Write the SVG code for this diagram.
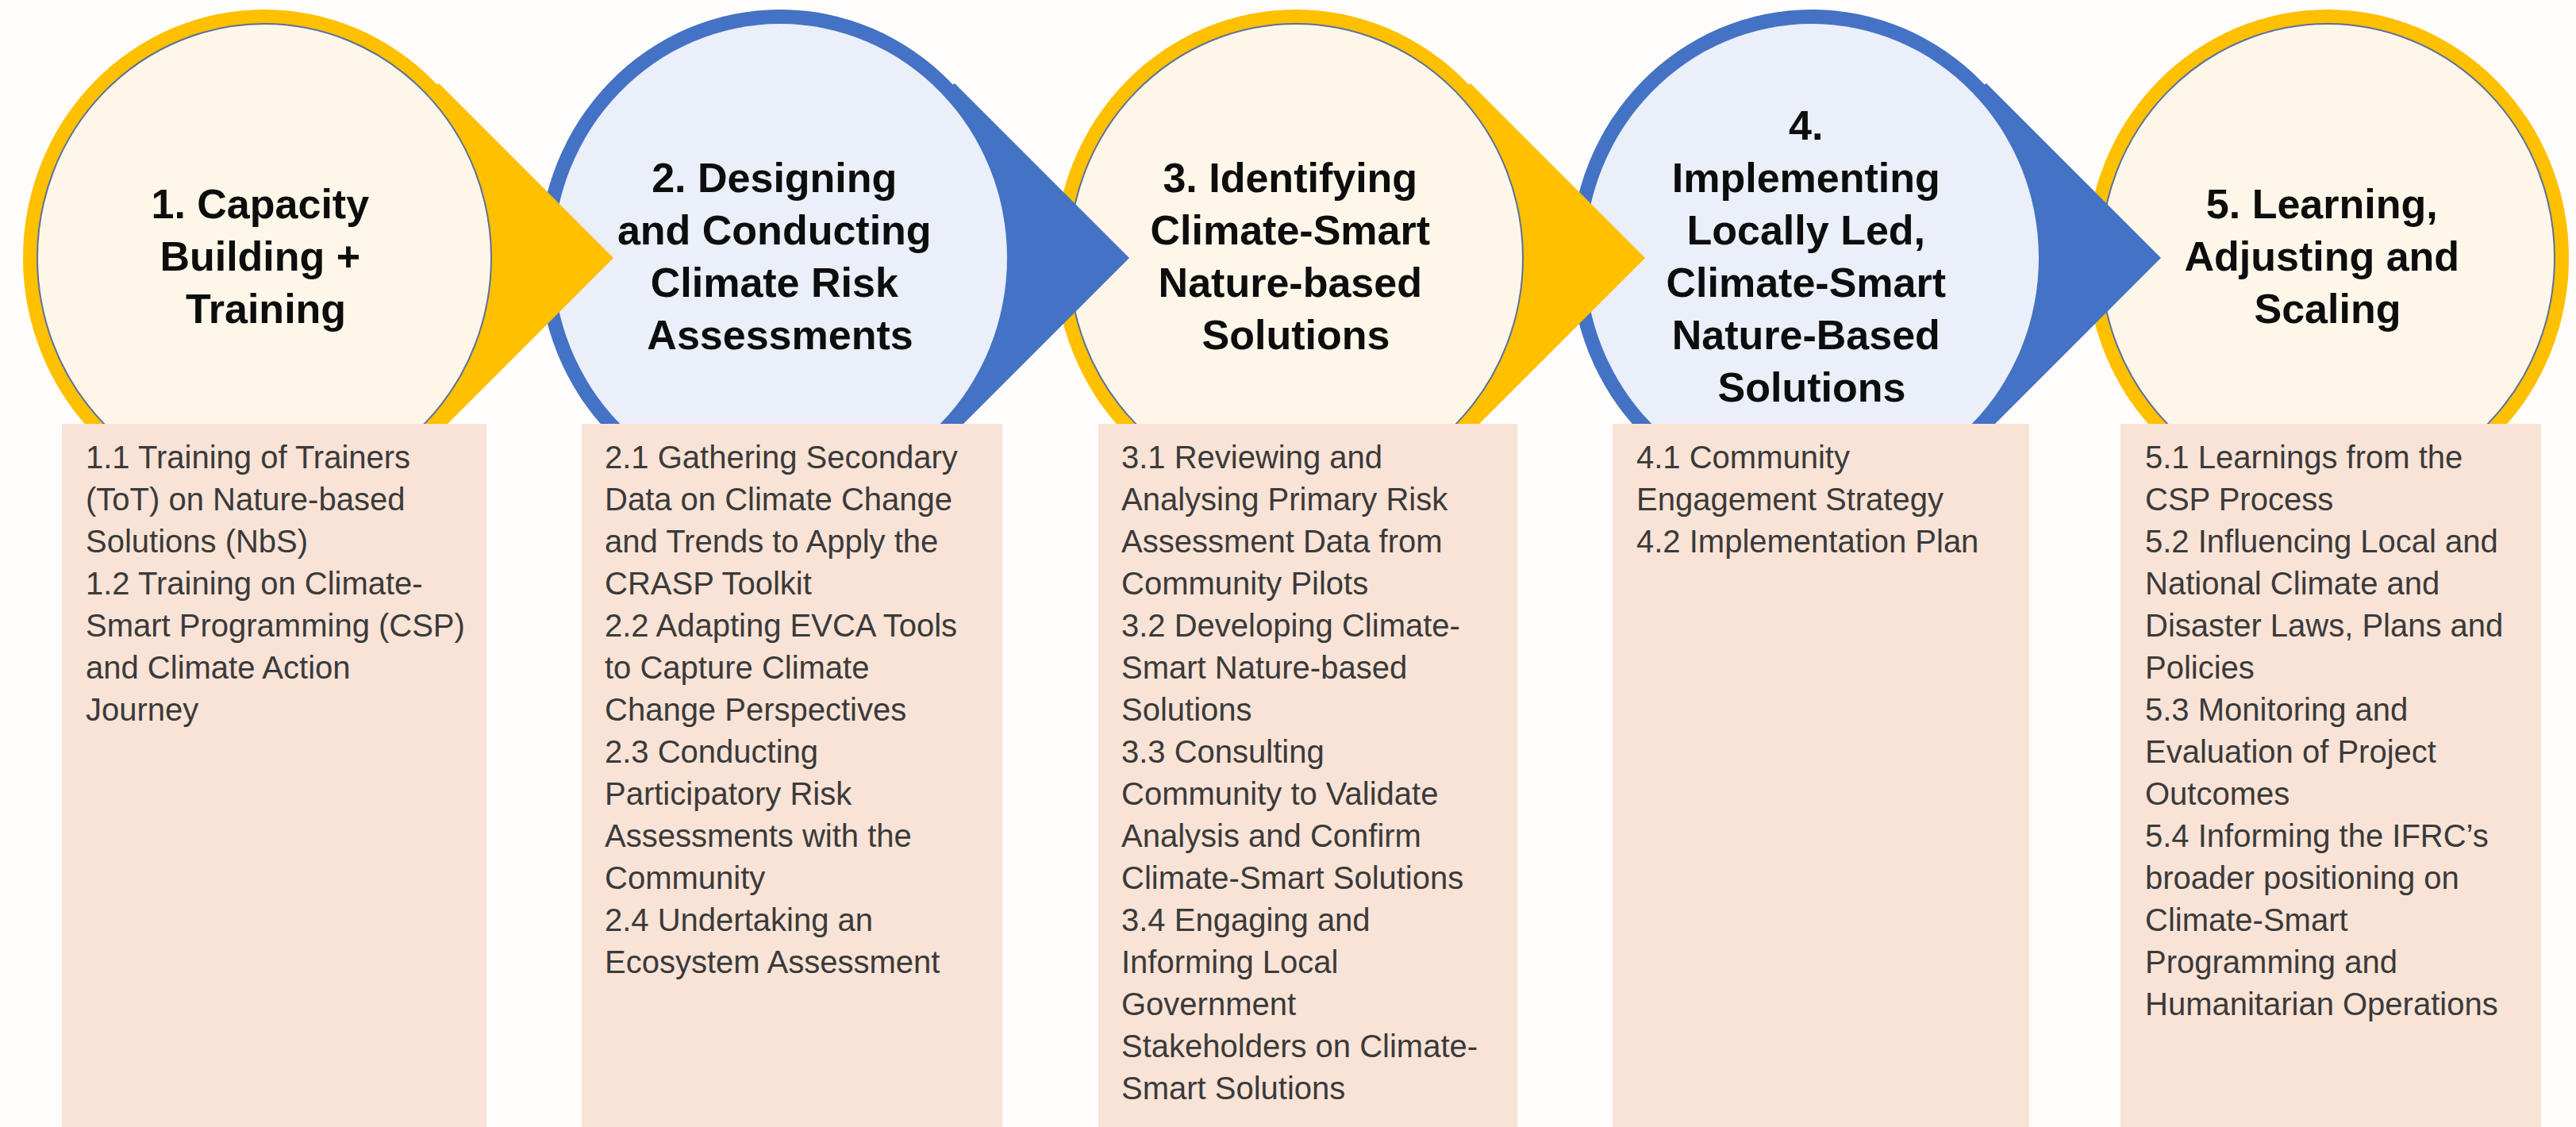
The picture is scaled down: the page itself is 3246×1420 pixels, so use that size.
<svg xmlns="http://www.w3.org/2000/svg" width="3246" height="1420" viewBox="0 0 3246 1420">
  <defs>
    <style>
      .ring-y { fill: #FFC000; }
      .ring-b { fill: #4472C4; }
      .core-y { fill: #FEF7E9; stroke: #5E7099; stroke-width: 2; }
      .core-b { fill: #EAEFF9; }
      .arrow-y { fill: #FFC000; }
      .arrow-b { fill: #4472C4; }
      .title { font-family: "Liberation Sans", Arial, sans-serif; font-weight: bold; font-size: 52px; fill: #0D0D0D; text-anchor: middle; }
      .box { fill: #F9E3D6; }
      .detail { font-family: "Liberation Sans", Arial, sans-serif; font-size: 40px; fill: #3A3A3A; }
    </style>
  </defs>

  <rect x="0" y="0" width="3246" height="1420" fill="#FEFDFB"/>

  <!-- step circles, last to first so each arrowhead overlays the next circle -->
  <g id="step5">
    <ellipse class="ring-y" cx="2933" cy="325" rx="304" ry="313"/>
    <ellipse class="core-y" cx="2933" cy="325" rx="286" ry="295"/>
    <text class="title">
      <tspan x="2933" y="275">5. Learning,</tspan>
      <tspan x="2933" y="341">Adjusting and</tspan>
      <tspan x="2933" y="407">Scaling</tspan>
    </text>
  </g>
  <g id="step4">
    <ellipse class="ring-b" cx="2283" cy="325" rx="304" ry="313"/>
    <ellipse class="core-b" cx="2283" cy="325" rx="286" ry="295"/>
    <text class="title">
      <tspan x="2283" y="176">4.</tspan>
      <tspan x="2283" y="242">Implementing</tspan>
      <tspan x="2283" y="308">Locally Led,</tspan>
      <tspan x="2283" y="374">Climate-Smart</tspan>
      <tspan x="2283" y="440">Nature-Based</tspan>
      <tspan x="2283" y="506">Solutions</tspan>
    </text>
  </g>
  <g id="step3">
    <ellipse class="ring-y" cx="1633" cy="325" rx="304" ry="313"/>
    <ellipse class="core-y" cx="1633" cy="325" rx="286" ry="295"/>
    <text class="title">
      <tspan x="1633" y="242">3. Identifying</tspan>
      <tspan x="1633" y="308">Climate-Smart</tspan>
      <tspan x="1633" y="374">Nature-based</tspan>
      <tspan x="1633" y="440">Solutions</tspan>
    </text>
  </g>
  <g id="step2">
    <ellipse class="ring-b" cx="983" cy="325" rx="304" ry="313"/>
    <ellipse class="core-b" cx="983" cy="325" rx="286" ry="295"/>
    <text class="title">
      <tspan x="983" y="242">2. Designing</tspan>
      <tspan x="983" y="308">and Conducting</tspan>
      <tspan x="983" y="374">Climate Risk</tspan>
      <tspan x="983" y="440">Assessments</tspan>
    </text>
  </g>
  <g id="step1">
    <ellipse class="ring-y" cx="333" cy="325" rx="304" ry="313"/>
    <ellipse class="core-y" cx="333" cy="325" rx="286" ry="295"/>
    <text class="title">
      <tspan x="335" y="275">1. Capacity</tspan>
      <tspan x="335" y="341">Building +</tspan>
      <tspan x="335" y="407">Training</tspan>
    </text>
  </g>

  <!-- arrowheads leading from each step into the next -->
  <g id="connectors">
    <path class="arrow-y" d="M773 325 L553 105 L537 115 A289 297 0 0 1 537 535 L553 545 Z"/>
    <path class="arrow-b" d="M1423 325 L1203 105 L1187 115 A289 297 0 0 1 1187 535 L1203 545 Z"/>
    <path class="arrow-y" d="M2073 325 L1853 105 L1837 115 A289 297 0 0 1 1837 535 L1853 545 Z"/>
    <path class="arrow-b" d="M2723 325 L2503 105 L2487 115 A289 297 0 0 1 2487 535 L2503 545 Z"/>
  </g>

  <!-- detail panels below the steps -->
  <g id="details1">
    <rect class="box" x="78" y="534" width="535" height="886"/>
    <text class="detail">
      <tspan x="108" y="590">1.1 Training of Trainers</tspan>
      <tspan x="108" dy="53">(ToT) on Nature-based</tspan>
      <tspan x="108" dy="53">Solutions (NbS)</tspan>
      <tspan x="108" dy="53">1.2 Training on Climate-</tspan>
      <tspan x="108" dy="53">Smart Programming (CSP)</tspan>
      <tspan x="108" dy="53">and Climate Action</tspan>
      <tspan x="108" dy="53">Journey</tspan>
    </text>
  </g>
  <g id="details2">
    <rect class="box" x="733" y="534" width="530" height="886"/>
    <text class="detail">
      <tspan x="762" y="590">2.1 Gathering Secondary</tspan>
      <tspan x="762" dy="53">Data on Climate Change</tspan>
      <tspan x="762" dy="53">and Trends to Apply the</tspan>
      <tspan x="762" dy="53">CRASP Toolkit</tspan>
      <tspan x="762" dy="53">2.2 Adapting EVCA Tools</tspan>
      <tspan x="762" dy="53">to Capture Climate</tspan>
      <tspan x="762" dy="53">Change Perspectives</tspan>
      <tspan x="762" dy="53">2.3 Conducting</tspan>
      <tspan x="762" dy="53">Participatory Risk</tspan>
      <tspan x="762" dy="53">Assessments with the</tspan>
      <tspan x="762" dy="53">Community</tspan>
      <tspan x="762" dy="53">2.4 Undertaking an</tspan>
      <tspan x="762" dy="53">Ecosystem Assessment</tspan>
    </text>
  </g>
  <g id="details3">
    <rect class="box" x="1384" y="534" width="528" height="886"/>
    <text class="detail">
      <tspan x="1413" y="590">3.1 Reviewing and</tspan>
      <tspan x="1413" dy="53">Analysing Primary Risk</tspan>
      <tspan x="1413" dy="53">Assessment Data from</tspan>
      <tspan x="1413" dy="53">Community Pilots</tspan>
      <tspan x="1413" dy="53">3.2 Developing Climate-</tspan>
      <tspan x="1413" dy="53">Smart Nature-based</tspan>
      <tspan x="1413" dy="53">Solutions</tspan>
      <tspan x="1413" dy="53">3.3 Consulting</tspan>
      <tspan x="1413" dy="53">Community to Validate</tspan>
      <tspan x="1413" dy="53">Analysis and Confirm</tspan>
      <tspan x="1413" dy="53">Climate-Smart Solutions</tspan>
      <tspan x="1413" dy="53">3.4 Engaging and</tspan>
      <tspan x="1413" dy="53">Informing Local</tspan>
      <tspan x="1413" dy="53">Government</tspan>
      <tspan x="1413" dy="53">Stakeholders on Climate-</tspan>
      <tspan x="1413" dy="53">Smart Solutions</tspan>
    </text>
  </g>
  <g id="details4">
    <rect class="box" x="2032" y="534" width="525" height="886"/>
    <text class="detail">
      <tspan x="2062" y="590">4.1 Community</tspan>
      <tspan x="2062" dy="53">Engagement Strategy</tspan>
      <tspan x="2062" dy="53">4.2 Implementation Plan</tspan>
    </text>
  </g>
  <g id="details5">
    <rect class="box" x="2672" y="534" width="530" height="886"/>
    <text class="detail">
      <tspan x="2703" y="590">5.1 Learnings from the</tspan>
      <tspan x="2703" dy="53">CSP Process</tspan>
      <tspan x="2703" dy="53">5.2 Influencing Local and</tspan>
      <tspan x="2703" dy="53">National Climate and</tspan>
      <tspan x="2703" dy="53">Disaster Laws, Plans and</tspan>
      <tspan x="2703" dy="53">Policies</tspan>
      <tspan x="2703" dy="53">5.3 Monitoring and</tspan>
      <tspan x="2703" dy="53">Evaluation of Project</tspan>
      <tspan x="2703" dy="53">Outcomes</tspan>
      <tspan x="2703" dy="53">5.4 Informing the IFRC’s</tspan>
      <tspan x="2703" dy="53">broader positioning on</tspan>
      <tspan x="2703" dy="53">Climate-Smart</tspan>
      <tspan x="2703" dy="53">Programming and</tspan>
      <tspan x="2703" dy="53">Humanitarian Operations</tspan>
    </text>
  </g>
</svg>
